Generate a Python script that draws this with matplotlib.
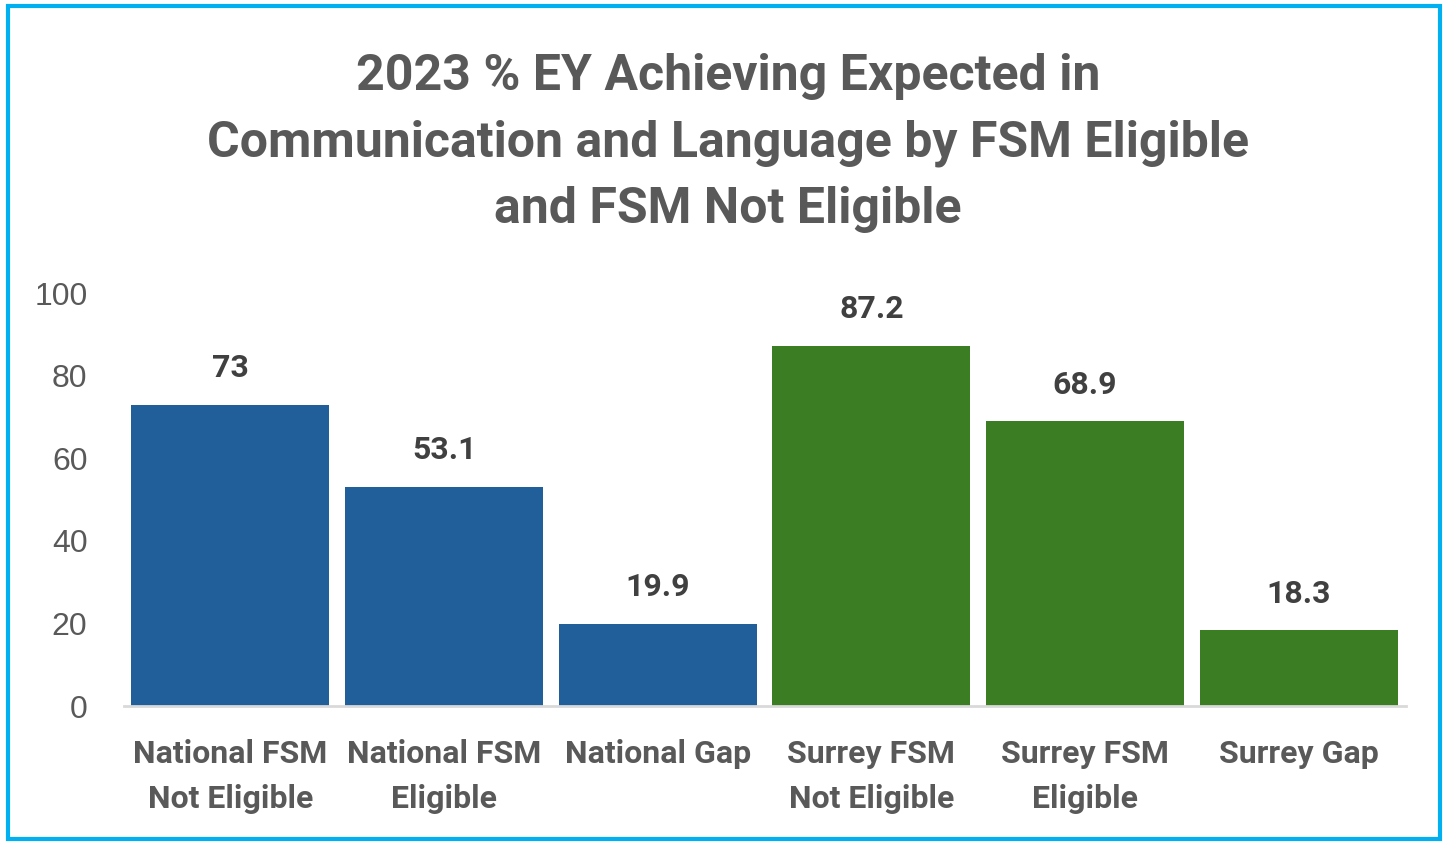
import matplotlib
matplotlib.use("Agg")
import matplotlib.pyplot as plt
from matplotlib.patches import Rectangle

categories = ["National FSM\nNot Eligible", "National FSM\nEligible", "National Gap",
              "Surrey FSM\nNot Eligible", "Surrey FSM\nEligible", "Surrey Gap"]
values = [73, 53.1, 19.9, 87.2, 68.9, 18.3]
value_labels = ["73", "53.1", "19.9", "87.2", "68.9", "18.3"]
bar_colors = ["#215F9A", "#215F9A", "#215F9A", "#3B7D23", "#3B7D23", "#3B7D23"]
yticks = [0, 20, 40, 60, 80, 100]
title = "2023 % EY Achieving Expected in\nCommunication and Language by FSM Eligible\nand FSM Not Eligible"

fig = plt.figure(figsize=(14.47, 8.44), dpi=100)
fig.patches.append(Rectangle((8/1447, 5/844), 1432/1447, 833/844, transform=fig.transFigure,
                             fill=False, edgecolor="#00B0F0", linewidth=3))
ax = fig.add_axes([0.0854, 0.1635, 0.886, 0.4893])
x = range(len(categories))
bars = ax.bar(x, values, width=0.927, color=bar_colors)
ax.set_xlim(-0.5, len(categories) - 0.5)
ax.set_ylim(0, 100)
ax.set_yticks(yticks)
ax.set_yticklabels([str(t) for t in yticks], fontsize=23, color="#595959", family="Liberation Sans")
ax.set_xticks(list(x))
ax.set_xticklabels(categories, fontsize=23, color="#595959", fontweight="bold", family="Roboto",
                   linespacing=1.6)
ax.tick_params(axis="both", length=0)
ax.tick_params(axis="x", pad=24)
ax.tick_params(axis="y", pad=26)
for s in ["top", "right", "left"]:
    ax.spines[s].set_visible(False)
ax.spines["bottom"].set_color("#D9D9D9")
ax.spines["bottom"].set_linewidth(2)
for xi, v, lab in zip(x, values, value_labels):
    ax.annotate(lab, (xi, v), xytext=(0, 15.5), textcoords="offset points", ha="center", va="bottom",
                fontsize=23, fontweight="bold", color="#404040", family="Roboto")
fig.text(0.503, 0.937, title, ha="center", va="top", fontsize=36, fontweight="bold",
         color="#595959", family="Roboto", linespacing=1.52)
fig.savefig("out.png", dpi=100)
